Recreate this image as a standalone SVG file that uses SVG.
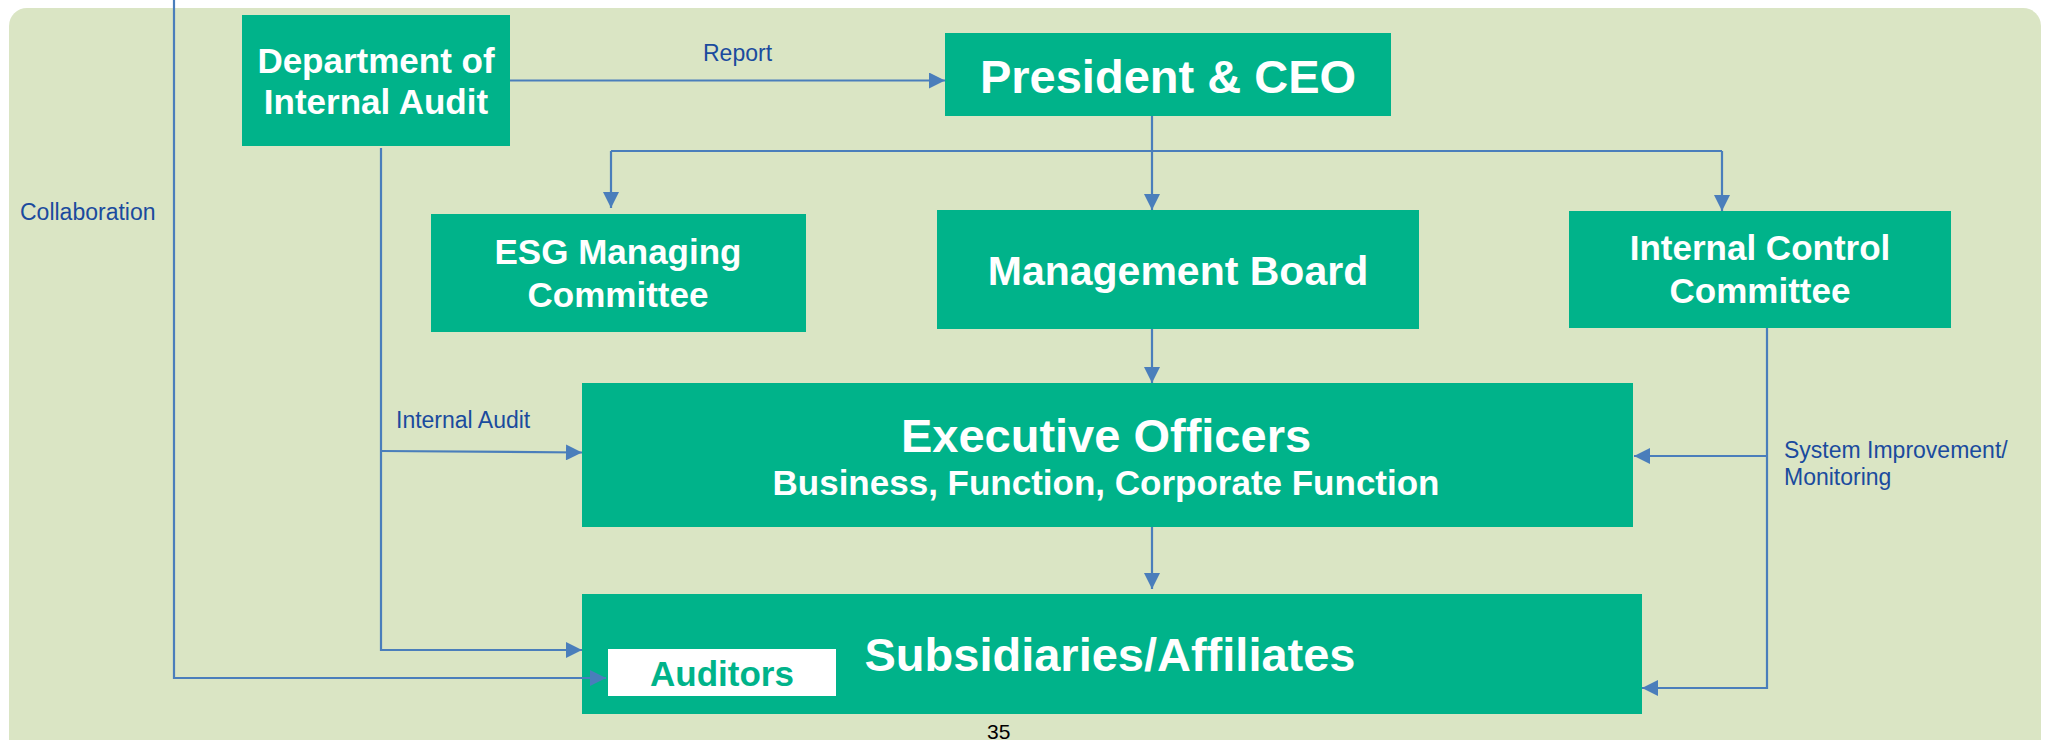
<svg xmlns="http://www.w3.org/2000/svg" width="2049" height="740" viewBox="0 0 2049 740">
<style>
.box{fill:#00B38A;}
.t{font-family:"Liberation Sans",Arial,sans-serif;font-weight:bold;fill:#FFFFFF;text-anchor:middle;}
.lbl{font-family:"Liberation Sans",Arial,sans-serif;font-size:23px;fill:#1A4B9E;}
.ln{fill:none;stroke:#4A7EBB;stroke-width:2.2;}
.arr{marker-end:url(#ah);}
</style>
<defs>
<marker id="ah" viewBox="0 0 10 10" refX="10" refY="5" markerWidth="17" markerHeight="16" markerUnits="userSpaceOnUse" orient="auto">
<path d="M0,0 L10,5 L0,10 z" fill="#4A7EBB"/>
</marker>
</defs>
<rect width="2049" height="740" fill="#FFFFFF"/>
<rect id="background" x="9" y="8" width="2032" height="760" rx="18" ry="18" fill="#DAE5C4"/>

<g id="labels">
<text class="lbl" x="703" y="61">Report</text>
<text class="lbl" x="20" y="220">Collaboration</text>
<text class="lbl" x="396" y="428">Internal Audit</text>
<text class="lbl" x="1784" y="458">System Improvement/</text>
<text class="lbl" x="1784" y="485">Monitoring</text>
<text x="987" y="739" font-family="Liberation Sans, Arial, sans-serif" font-size="21" fill="#000000">35</text>
</g>

<g id="dept-internal-audit">
<rect class="box" x="242" y="15" width="268" height="131"/>
<text class="t" x="376" y="73" font-size="35">Department of</text>
<text class="t" x="376" y="114" font-size="35">Internal Audit</text>
</g>

<g id="president-ceo">
<rect class="box" x="945" y="33" width="446" height="83"/>
<text class="t" x="1168" y="93" font-size="47">President &amp; CEO</text>
</g>

<g id="esg-committee">
<rect class="box" x="431" y="214" width="375" height="118"/>
<text class="t" x="618" y="264" font-size="35">ESG Managing</text>
<text class="t" x="618" y="307" font-size="35">Committee</text>
</g>

<g id="management-board">
<rect class="box" x="937" y="210" width="482" height="119"/>
<text class="t" x="1178" y="285" font-size="41">Management Board</text>
</g>

<g id="internal-control-committee">
<rect class="box" x="1569" y="211" width="382" height="117"/>
<text class="t" x="1760" y="260" font-size="35">Internal Control</text>
<text class="t" x="1760" y="303" font-size="35">Committee</text>
</g>

<g id="executive-officers">
<rect class="box" x="582" y="383" width="1051" height="144"/>
<text class="t" x="1106" y="452" font-size="47">Executive Officers</text>
<text class="t" x="1106" y="495" font-size="35">Business, Function, Corporate Function</text>
</g>

<g id="subsidiaries-affiliates">
<rect class="box" x="582" y="594" width="1060" height="120"/>
<text class="t" x="1110" y="671" font-size="47">Subsidiaries/Affiliates</text>
</g>

<g id="auditors">
<rect x="608" y="649" width="228" height="47" fill="#FFFFFF"/>
<text class="t" x="722" y="686" font-size="35" style="fill:#00B38A">Auditors</text>
</g>

<g id="connectors">
<path class="ln arr" d="M510,80.5 L945,80.5"/>
<path class="ln" d="M1152,116 L1152,151 M611,151 L1722,151"/>
<path class="ln arr" d="M611,151 L611,208"/>
<path class="ln arr" d="M1152,151 L1152,210"/>
<path class="ln arr" d="M1722,151 L1722,211"/>
<path class="ln arr" d="M1152,329 L1152,383"/>
<path class="ln arr" d="M1152,527 L1152,589"/>
<path class="ln arr" d="M381,148 L381,650 L582,650"/>
<path class="ln arr" d="M381,451 L582,452.5"/>
<path class="ln arr" d="M174,0 L174,678 L606,678"/>
<path class="ln arr" d="M1767,328 L1767,688 L1642,688"/>
<path class="ln arr" d="M1767,456 L1634,456"/>
</g>
</svg>
